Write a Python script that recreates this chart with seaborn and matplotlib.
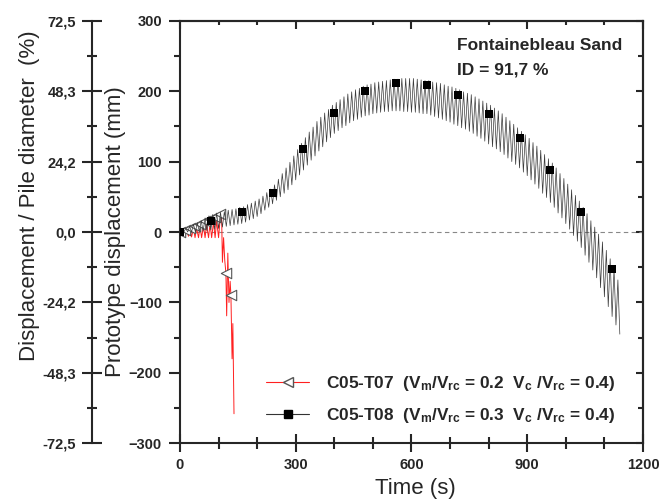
import numpy as np
import pandas as pd
import seaborn as sns
import matplotlib.pyplot as plt
from matplotlib.lines import Line2D
from matplotlib.ticker import MultipleLocator, FixedLocator

# C05-T07 : short test, collapses after ~110 s
t07_time = [0, 4, 9, 13, 17, 22, 26, 30, 35, 39, 43, 48, 52, 56, 61, 65, 69, 74, 78,
            82, 87, 91, 95, 100, 104, 108, 110, 113, 116, 119, 121, 124, 127, 130,
            132, 135, 137, 140]
t07_mm = [0, -3, 2, -5, 3, -6, 4, -7, 5, -8, 6, -8, 8, -8, 9, -8, 10, -8, 12,
          -8, 14, -8, 16, -8, 18, 20, -43, -8, -40, -58, -119, -30, -100, -70,
          -89, -180, -130, -258]
t07_mark_time = [0, 13, 26, 39, 52, 65, 78, 91, 104, 119, 132]
t07_mark_mm = [0, 3, 6, 9, 12, 15, 18, 21, 25, -58, -89]

# C05-T08 : cyclic loading, one trough / one peak per cycle
t08_cycle_s = 10
t08_trough_mm = [0, 0, 0, 0, 0, 1, 1, 2, 3, 4, 5, 7, 8, 9, 10, 11, 12, 14, 17, 19,
                 22, 26, 31, 35, 40, 45, 50, 55, 60, 67, 74, 81, 88, 95, 102, 108,
                 115, 121, 128, 134, 140, 144, 148, 151, 155, 158, 160, 163, 165,
                 166, 168, 169, 170, 171, 171, 172, 172, 172, 171, 171, 170, 170,
                 169, 168, 168, 166, 164, 162, 160, 158, 156, 153, 151, 148, 146,
                 143, 140, 136, 133, 129, 125, 121, 118, 114, 110, 105, 100, 96,
                 91, 85, 80, 74, 68, 62, 55, 49, 42, 35, 27, 20, 12, 4, -5, -13,
                 -22, -33, -43, -54, -65, -79, -92, -106, -120, -132, -145]
t08_peak_mm = [3, 5, 8, 11, 13, 16, 20, 23, 25, 27, 28, 29, 31, 32, 33, 35, 36, 39,
               41, 44, 47, 51, 56, 61, 67, 75, 83, 91, 99, 108, 117, 126, 134, 142,
               149, 157, 163, 169, 174, 180, 184, 188, 192, 196, 199, 202, 204, 207,
               209, 210, 212, 213, 214, 215, 216, 217, 217, 218, 218, 218, 218, 217,
               216, 215, 215, 213, 212, 211, 209, 207, 206, 204, 202, 199, 197, 195,
               192, 189, 186, 183, 180, 176, 172, 168, 163, 158, 153, 148, 143, 138,
               133, 127, 122, 116, 110, 104, 98, 91, 83, 76, 68, 60, 52, 44, 35, 26,
               16, 7, -3, -14, -26, -38, -52, -68]
t08_mark_time = [0, 80, 160, 240, 320, 400, 480, 560, 640, 720, 800, 880, 960, 1040, 1120]
t08_mark_mm = [0, 15, 29, 55, 118, 169, 200, 212, 209, 194, 168, 133, 88, 29, -52]

mm_ticks = [-300, -200, -100, 0, 100, 200, 300]
pct_ticklabels = ["-72,5", "-48,3", "-24,2", "0,0", "24,2", "48,3", "72,5"]
pct_max = 72.5
mm_max = 300

# interleave troughs and peaks
t08_time, t08_mm = [], []
for i, lo in enumerate(t08_trough_mm):
    t08_time.append(i * t08_cycle_s)
    t08_mm.append(lo)
    if i < len(t08_peak_mm):
        t08_time.append(i * t08_cycle_s + t08_cycle_s / 2)
        t08_mm.append(t08_peak_mm[i])

df07 = pd.DataFrame({"time": t07_time, "mm": t07_mm})
df08 = pd.DataFrame({"time": t08_time, "mm": t08_mm})
m07 = pd.DataFrame({"time": t07_mark_time, "mm": t07_mark_mm})
m08 = pd.DataFrame({"time": t08_mark_time, "mm": t08_mark_mm})

sns.set_style("ticks")
plt.rcParams["font.family"] = ["Liberation Sans", "DejaVu Sans"]
plt.rcParams["font.weight"] = "bold"
plt.rcParams["mathtext.fontset"] = "custom"
plt.rcParams["mathtext.rm"] = "Liberation Sans"
plt.rcParams["mathtext.bf"] = "Liberation Sans:bold"
plt.rcParams["mathtext.it"] = "Liberation Sans:italic"

fig = plt.figure(figsize=(6.6, 5.04), dpi=100)
ax = fig.add_axes([0.2727, 0.1204, 0.7015, 0.8385])

ax.axhline(0, color="#888888", lw=0.8, ls=(0, (4, 3)), zorder=1)

sns.lineplot(data=df07, x="time", y="mm", ax=ax, color="#ff2020", lw=0.7,
             estimator=None, sort=False, zorder=2)
sns.scatterplot(data=m07, x="time", y="mm", ax=ax, marker="<", s=56,
                facecolor="white", edgecolor="#555555", linewidth=0.8, zorder=3)
sns.lineplot(data=df08, x="time", y="mm", ax=ax, color="#3a3a3a", lw=0.5,
             estimator=None, sort=False, zorder=4)
sns.scatterplot(data=m08, x="time", y="mm", ax=ax, marker="s", s=36,
                color="black", linewidth=0, zorder=5)

ax.set_xlim(0, 1200)
ax.set_ylim(-mm_max, mm_max)
ax.xaxis.set_major_locator(MultipleLocator(300))
ax.xaxis.set_minor_locator(MultipleLocator(100))
ax.yaxis.set_major_locator(FixedLocator(mm_ticks))
ax.yaxis.set_minor_locator(MultipleLocator(50))
for s in ax.spines.values():
    s.set_linewidth(1.5)
ax.tick_params(axis="x", which="major", direction="inout", length=13, width=1.5,
               labelsize=10.5, pad=4, top=False)
ax.tick_params(axis="x", which="minor", direction="inout", length=8.5, width=1.5, top=False)
ax.tick_params(axis="y", which="major", direction="out", length=8, width=1.5,
               labelsize=10.5, pad=5, right=False)
ax.tick_params(axis="y", which="minor", direction="out", length=4, width=1.5, right=False)

ax.set_xlabel("Time (s)", fontsize=16, fontweight="normal")
ax.set_ylabel("Prototype displacement (mm)", fontsize=16, fontweight="normal")
ax.xaxis.set_label_coords(0.5076, -0.082)
ax.yaxis.set_label_coords(-0.1166, 0.5)

# inward ticks on right and top
sec_r = ax.secondary_yaxis("right")
sec_r.yaxis.set_major_locator(FixedLocator(mm_ticks))
sec_r.yaxis.set_minor_locator(MultipleLocator(50))
sec_r.tick_params(which="major", direction="in", length=5, width=1.5, labelright=False)
sec_r.tick_params(which="minor", direction="in", length=3.5, width=1.5)
sec_r.spines["right"].set_linewidth(1.5)
sec_t = ax.secondary_xaxis("top")
sec_t.xaxis.set_major_locator(MultipleLocator(300))
sec_t.xaxis.set_minor_locator(MultipleLocator(100))
sec_t.tick_params(which="major", direction="in", length=6, width=1.5, labeltop=False)
sec_t.tick_params(which="minor", direction="in", length=3, width=1.5)
sec_t.spines["top"].set_linewidth(1.5)

# outer axis: displacement / pile diameter
ax2 = ax.twinx()
for side in ["right", "top", "bottom"]:
    ax2.spines[side].set_visible(False)
ax2.spines["left"].set_visible(True)
ax2.spines["left"].set_position(("axes", -0.19))
ax2.spines["left"].set_linewidth(1.5)
ax2.yaxis.set_ticks_position("left")
ax2.yaxis.set_label_position("left")
ax2.set_ylim(-pct_max, pct_max)
ax2.yaxis.set_major_locator(FixedLocator([v * pct_max / mm_max for v in mm_ticks]))
ax2.yaxis.set_minor_locator(FixedLocator([v * pct_max / mm_max for v in range(-250, 300, 100)]))
ax2.set_yticklabels(pct_ticklabels)
ax2.tick_params(which="major", direction="inout", length=15, width=1.5,
                labelsize=10.5, pad=4)
ax2.tick_params(which="minor", direction="inout", length=6.5, width=1.5)
ax2.set_ylabel("Displacement / Pile diameter  (%)", fontsize=16, fontweight="normal")
ax2.yaxis.set_label_coords(-0.302, 0.586)

ax.text(0.598, 0.9425, "Fontainebleau Sand", transform=ax.transAxes,
        fontsize=12.5, fontweight="bold", va="center", ha="left")
ax.text(0.598, 0.883, "ID = 91,7 %", transform=ax.transAxes,
        fontsize=12.5, fontweight="bold", va="center", ha="left")

handles = [
    Line2D([], [], color="#ff2020", lw=0.8, marker="<", ms=7.5, mfc="white", mec="#555555"),
    Line2D([], [], color="#333333", lw=0.8, marker="s", ms=6, mfc="black", mec="black"),
]
labels = [
    r"C05-T07  (V$_\mathbf{m}$/V$_\mathbf{rc}$ = 0.2  V$_\mathbf{c}$ /V$_\mathbf{rc}$ = 0.4)",
    r"C05-T08  (V$_\mathbf{m}$/V$_\mathbf{rc}$ = 0.3  V$_\mathbf{c}$ /V$_\mathbf{rc}$ = 0.4)",
]
ax.legend(handles, labels, loc="center left", bbox_to_anchor=(0.186, 0.103),
          frameon=False, borderpad=0, borderaxespad=0, handlelength=2.5,
          handletextpad=1.0, labelspacing=0.75, prop={"weight": "bold", "size": 12.4})

fig.savefig("out.png", dpi=100)
